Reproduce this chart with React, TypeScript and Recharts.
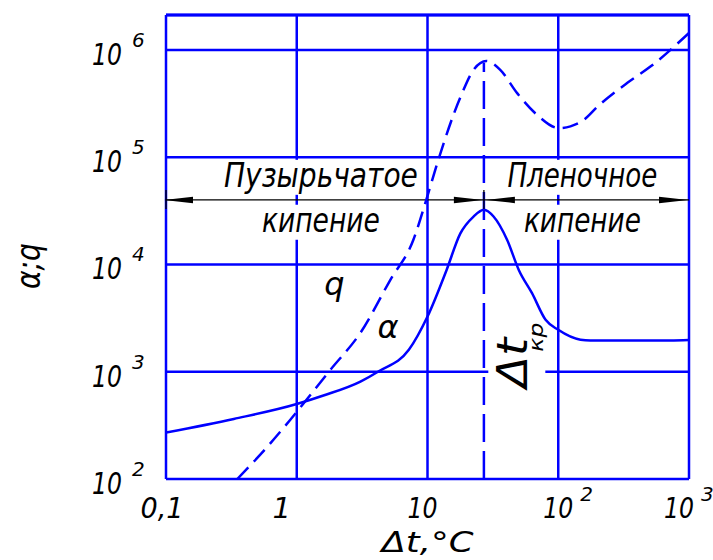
import {
  CartesianGrid,
  ComposedChart,
  Line,
  ReferenceDot,
  ReferenceLine,
  XAxis,
  YAxis,
} from "recharts";

// axis ticks (log scales)
const X_TICKS = [0.1, 1, 10, 100, 1000];
const X_TICK_BASE = ["0,1", "1", "10", "10", "10"];
const X_TICK_POWER = ["", "", "", "2", "3"];
const Y_TICKS = [1e2, 1e3, 1e4, 1e5, 1e6];
const Y_TICK_POWER = ["2", "3", "4", "5", "6"];
const X_MIN = 0.1;
const X_MAX = 1000;
const Y_MIN = 100;
const Y_MAX = 2.12e6;

// heat transfer coefficient α vs Δt
const ALPHA_DT = [0.1, 0.33, 1, 1.6, 3.07, 4.24, 7.2, 10, 14, 17.8, 22.5, 27, 32, 40.6, 49.9, 63, 80, 100, 148, 176, 720, 1000];
const ALPHA_VAL = [271, 363, 500, 600, 810, 1010, 1600, 3270, 8900, 19400, 28000, 32400, 28000, 17000, 8900, 5400, 3050, 2460, 1990, 1960, 1960, 1980];

// heat flux q vs Δt
const Q_DT = [0.351, 0.596, 0.893, 1.81, 3.07, 5.2, 7.8, 9.63, 12.1, 17.9, 22.5, 28.2, 36, 48.5, 69, 101, 124, 157, 199, 338, 507, 1000];
const Q_VAL = [100, 200, 357, 1044, 2310, 7200, 17000, 37600, 94600, 366000, 653000, 790000, 653000, 396000, 248000, 187000, 194000, 223000, 295000, 494000, 700000, 1440000];

// critical temperature difference and regime markers
const CRIT_DT = 27;
const CRIT_TOP = 760000;
const ARROW_LEVEL = 40000;
const REGION_UPPER = 53000;
const REGION_LOWER = 20200;
const BUBBLE_DT = 1.53;
const FILM_DT = 153;

const alphaPoints = ALPHA_DT.map((x, i) => ({ x, y: ALPHA_VAL[i] }));
const qPoints = Q_DT.map((x, i) => ({ x, y: Q_VAL[i] }));

const BLUE = "#0000ff";
const FONT = "'DejaVu Sans', 'Liberation Sans', sans-serif";
const txt = { fontFamily: FONT, fontStyle: "italic" as const, fill: "#000" };

// horizontal nudges of the x tick captions
const X_LABEL_SHIFT = [-4, -15, -5, 0, -10];

function YTick(props: any) {
  const { x, y, payload } = props;
  const i = Y_TICKS.indexOf(payload.value);
  return (
    <g>
      <text x={x - 44} y={y + 15} textAnchor="end" fontSize={30} textLength={30} lengthAdjust="spacingAndGlyphs" {...txt}>
        10
      </text>
      <text x={x - 34} y={y - 3} fontSize={20} {...txt}>
        {Y_TICK_POWER[i]}
      </text>
    </g>
  );
}

function XTick(props: any) {
  const { x, y, payload } = props;
  const i = X_TICKS.indexOf(payload.value);
  const base = X_TICK_BASE[i];
  const cx = x + X_LABEL_SHIFT[i];
  const w = base === "0,1" ? 43 : base === "10" ? 30 : 0;
  return (
    <g>
      <text
        x={cx}
        y={y + 39}
        textAnchor="middle"
        fontSize={29}
        {...(w ? { textLength: w, lengthAdjust: "spacingAndGlyphs" } : {})}
        {...txt}
      >
        {base}
      </text>
      {X_TICK_POWER[i] ? (
        <text x={cx + w / 2 + 7} y={y + 22} fontSize={20} {...txt}>
          {X_TICK_POWER[i]}
        </text>
      ) : null}
    </g>
  );
}

function XTitle(props: any) {
  const { x, y, width } = props.viewBox;
  return (
    <text x={x + width / 2} y={y + 73} textAnchor="middle" fontSize={29} textLength={92} lengthAdjust="spacingAndGlyphs" {...txt}>
      Δt,°C
    </text>
  );
}

function YTitle(props: any) {
  const { y, height } = props.viewBox;
  return (
    <text
      transform={`translate(40,${y + height / 2 + 19}) rotate(-90)`}
      textAnchor="middle"
      fontSize={34}
      textLength={46}
      lengthAdjust="spacingAndGlyphs"
      {...txt}
    >
      α;q
    </text>
  );
}

// caption on a white plate that hides the grid behind it
const plateText = (text: string, width: number) => (p: any) => (
  <g>
    <rect x={p.cx - width / 2 - 4} y={p.cy - 27} width={width + 8} height={35} fill="#fff" />
    <text x={p.cx} y={p.cy} textAnchor="middle" fontSize={34} textLength={width} lengthAdjust="spacingAndGlyphs" {...txt}>
      {text}
    </text>
  </g>
);

const plainText = (text: string) => (p: any) => (
  <text x={p.cx} y={p.cy} textAnchor="middle" fontSize={32} {...txt}>
    {text}
  </text>
);

// dimension arrowhead, dir = 1 points right, -1 points left
const arrowHead = (dir: number, gap: number) => (p: any) => {
  const tip = p.cx - dir * gap;
  const base = tip - dir * 29;
  return (
    <polygon
      points={`${tip},${p.cy} ${base},${p.cy - 3.2} ${base},${p.cy + 3.2}`}
      fill="#000"
    />
  );
};

const tickMark = (p: any) => (
  <line x1={p.cx} x2={p.cx} y1={p.cy - 10} y2={p.cy + 9} stroke="#000" strokeWidth={1.3} />
);

const critLabel = (p: any) => (
  <g>
    <rect x={p.cx - 39} y={p.cy - 26} width={57} height={22} fill="#fff" />
    <g transform={`translate(${p.cx},${p.cy}) rotate(-90)`}>
      <text x={0} y={0} fontSize={42} textLength={50} lengthAdjust="spacingAndGlyphs" {...txt}>
        Δt
      </text>
      <text x={36} y={16} fontSize={20} textLength={29} lengthAdjust="spacingAndGlyphs" {...txt}>
        кр
      </text>
    </g>
  </g>
);

export default function App() {
  return (
    <div style={{ position: "absolute", left: 0, top: 0, width: 713, height: 560, background: "#fff" }}>
      <ComposedChart width={713} height={560} margin={{ top: 15, right: 24, bottom: 0, left: 0 }}>
        <CartesianGrid stroke={BLUE} strokeWidth={2.5} />
        <XAxis
          dataKey="x"
          type="number"
          scale="log"
          domain={[X_MIN, X_MAX]}
          ticks={X_TICKS}
          interval={0}
          allowDataOverflow
          axisLine={false}
          tickLine={false}
          tickSize={0}
          tickMargin={0}
          height={81}
          tick={<XTick />}
          label={{ content: XTitle }}
        />
        <YAxis
          type="number"
          scale="log"
          domain={[Y_MIN, Y_MAX]}
          ticks={Y_TICKS}
          interval={0}
          allowDataOverflow
          axisLine={false}
          tickLine={false}
          tickSize={0}
          tickMargin={0}
          width={166}
          tick={<YTick />}
          label={{ content: YTitle }}
        />
        <ReferenceLine y={Y_MAX} stroke={BLUE} strokeWidth={3} />
        <ReferenceLine
          segment={[
            { x: CRIT_DT, y: Y_MIN },
            { x: CRIT_DT, y: CRIT_TOP },
          ]}
          stroke={BLUE}
          strokeWidth={2.5}
          strokeDasharray="28 9"
        />
        <ReferenceLine y={ARROW_LEVEL} stroke="#000" strokeWidth={1.3} />
        <ReferenceDot x={BUBBLE_DT} y={REGION_UPPER} shape={plateText("Пузырьчатое", 194)} />
        <ReferenceDot x={BUBBLE_DT} y={REGION_LOWER} shape={plateText("кипение", 118)} />
        <ReferenceDot x={FILM_DT} y={REGION_UPPER} shape={plateText("Пленочное", 150)} />
        <ReferenceDot x={FILM_DT} y={REGION_LOWER} shape={plateText("кипение", 117)} />
        <ReferenceDot x={X_MIN} y={ARROW_LEVEL} shape={arrowHead(-1, -2)} />
        <ReferenceDot x={CRIT_DT} y={ARROW_LEVEL} shape={arrowHead(1, 1)} />
        <ReferenceDot x={CRIT_DT} y={ARROW_LEVEL} shape={arrowHead(-1, 2)} />
        <ReferenceDot x={X_MAX} y={ARROW_LEVEL} shape={arrowHead(1, 1)} />
        <ReferenceDot x={X_MIN} y={ARROW_LEVEL} shape={tickMark} />
        <ReferenceDot x={CRIT_DT} y={ARROW_LEVEL} shape={tickMark} />
        <Line
          data={alphaPoints}
          dataKey="y"
          type="monotone"
          stroke={BLUE}
          strokeWidth={2.5}
          dot={false}
          activeDot={false}
          isAnimationActive={false}
        />
        <Line
          data={qPoints}
          dataKey="y"
          type="monotone"
          stroke={BLUE}
          strokeWidth={2.5}
          strokeDasharray="16 8"
          dot={false}
          activeDot={false}
          isAnimationActive={false}
        />
        <ReferenceDot x={1.94} y={5200} shape={plainText("q")} />
        <ReferenceDot x={5.0} y={2070} shape={plainText("α")} />
        <ReferenceDot x={58} y={710} shape={critLabel} />
      </ComposedChart>
    </div>
  );
}
